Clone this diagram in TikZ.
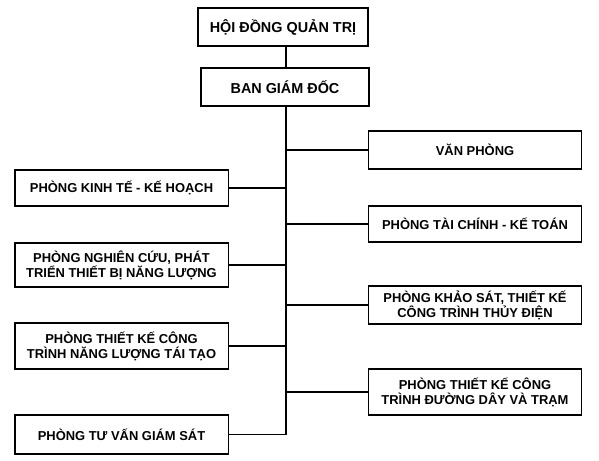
\documentclass[tikz,border=0pt]{standalone}
\usepackage{fontspec}
\setmainfont{Liberation Sans}
\usetikzlibrary{positioning}

\begin{document}
\begin{tikzpicture}[
  x=0.75pt, y=-0.75pt,
  font=\bfseries\fontsize{9.7}{11.25}\selectfont,
  line width=0.8pt,
  board/.style={draw, line width=1pt, align=center, font=\bfseries\fontsize{10.8}{12}\selectfont},
  dept/.style={draw, line width=1pt, align=center, minimum width=160pt},
  link/.style={line width=0.8pt}
]
\useasboundingbox (0,0) rectangle (599,460);

\node[board, minimum width=127.5pt, minimum height=28.5pt] (hdqt) at (283,27) {HỘI ĐỒNG QUẢN TRỊ};
\node[board, minimum width=126pt, minimum height=28.5pt] (bgd) at (285,87) {BAN GIÁM ĐỐC};

\node[dept, minimum height=27pt] (kinhte) at (121.5,188) {PHÒNG KINH TẾ - KẾ HOẠCH};
\node[dept, minimum height=33pt] (nghiencuu) at (121.5,265) {PHÒNG NGHIÊN CỨU, PHÁT\\TRIỂN THIẾT BỊ NĂNG LƯỢNG};
\node[dept, minimum height=34.5pt] (taitao) at (121.5,346) {PHÒNG THIẾT KẾ CÔNG\\TRÌNH NĂNG LƯỢNG TÁI TẠO};
\node[dept, minimum height=29.25pt] (tuvan) at (121.5,434.5) {PHÒNG TƯ VẤN GIÁM SÁT};

\node[dept, minimum height=28.5pt] (vanphong) at (475,150) {VĂN PHÒNG};
\node[dept, minimum height=27pt] (taichinh) at (475,224) {PHÒNG TÀI CHÍNH - KẾ TOÁN};
\node[dept, minimum height=27pt] (khaosat) at (475,305) {PHÒNG KHẢO SÁT, THIẾT KẾ\\CÔNG TRÌNH THỦY ĐIỆN};
\node[dept, minimum height=34.5pt] (duongday) at (475,392) {PHÒNG THIẾT KẾ CÔNG\\TRÌNH ĐƯỜNG DÂY VÀ TRẠM};

% trunk
\draw[link] (286,0 |- hdqt.south) -- (286,0 |- bgd.north);
\draw[link] (286,0 |- bgd.south) -- (286,0 |- tuvan.east);

% branches
\foreach \d in {kinhte,nghiencuu,taitao,tuvan}
  \draw[link] (\d.east) -- (\d.east -| 286,0);
\foreach \d in {vanphong,taichinh,khaosat,duongday}
  \draw[link] (\d.west) -- (\d.west -| 286,0);
\end{tikzpicture}
\end{document}
